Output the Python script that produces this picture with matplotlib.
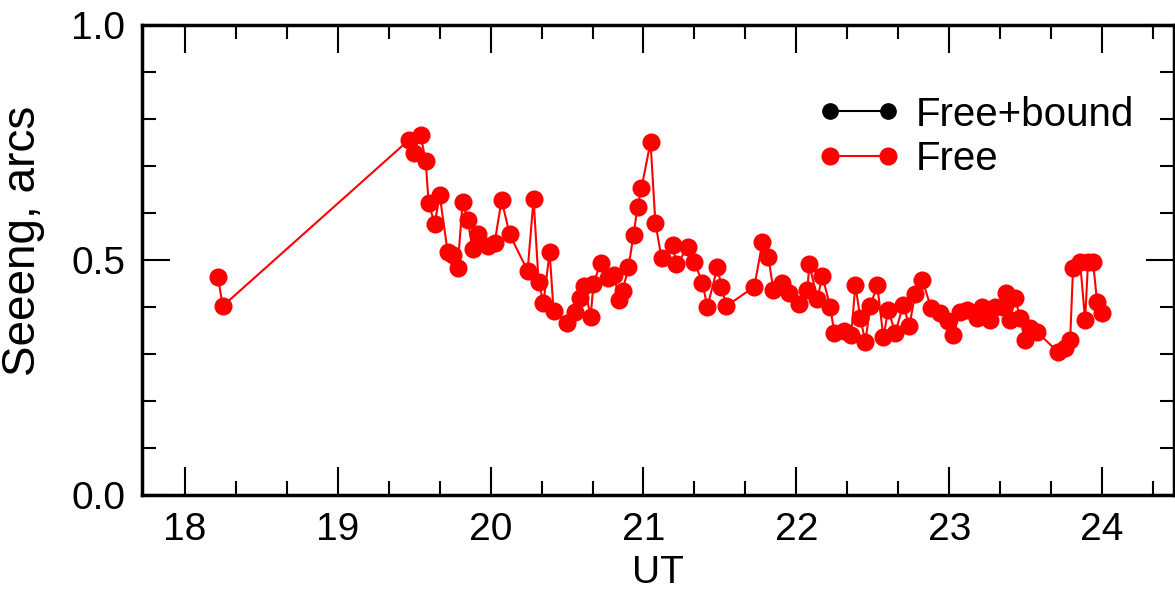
import numpy as np
import matplotlib.pyplot as plt
from matplotlib.ticker import MultipleLocator

plt.rcParams['font.family'] = ['Liberation Sans', 'DejaVu Sans']

# seeing vs UT, free atmosphere only (hours, arcsec)
ut_free = [18.216, 18.248, 19.464, 19.497, 19.542, 19.575, 19.595, 19.634, 19.667, 19.719,
           19.752, 19.784, 19.817, 19.850, 19.882, 19.915, 19.980, 20.026, 20.072, 20.124,
           20.242, 20.281, 20.314, 20.346, 20.386, 20.412, 20.497, 20.549, 20.588, 20.614,
           20.654, 20.673, 20.719, 20.765, 20.810, 20.837, 20.863, 20.902, 20.935, 20.961,
           20.987, 21.046, 21.078, 21.118, 21.190, 21.216, 21.294, 21.333, 21.386, 21.418,
           21.484, 21.510, 21.542, 21.725, 21.778, 21.817, 21.850, 21.908, 21.954, 22.020,
           22.072, 22.085, 22.137, 22.170, 22.222, 22.248, 22.314, 22.359, 22.386, 22.418,
           22.451, 22.484, 22.529, 22.569, 22.601, 22.647, 22.699, 22.739, 22.778, 22.824,
           22.882, 22.941, 22.993, 23.026, 23.072, 23.118, 23.183, 23.216, 23.268, 23.301,
           23.353, 23.373, 23.399, 23.431, 23.464, 23.497, 23.529, 23.575, 23.712, 23.758,
           23.791, 23.810, 23.856, 23.889, 23.908, 23.941, 23.967, 24.000]
seeing_free = [0.464, 0.402, 0.755, 0.728, 0.766, 0.711, 0.621, 0.577, 0.638, 0.517,
               0.511, 0.483, 0.623, 0.585, 0.523, 0.555, 0.530, 0.536, 0.628, 0.555,
               0.477, 0.630, 0.453, 0.409, 0.517, 0.391, 0.366, 0.389, 0.419, 0.445,
               0.379, 0.449, 0.494, 0.462, 0.468, 0.415, 0.434, 0.485, 0.553, 0.613,
               0.653, 0.751, 0.579, 0.504, 0.532, 0.491, 0.528, 0.496, 0.451, 0.400,
               0.485, 0.443, 0.402, 0.443, 0.538, 0.506, 0.436, 0.451, 0.430, 0.406,
               0.436, 0.491, 0.417, 0.466, 0.400, 0.345, 0.349, 0.340, 0.447, 0.377,
               0.326, 0.402, 0.447, 0.336, 0.394, 0.345, 0.404, 0.360, 0.428, 0.457,
               0.398, 0.387, 0.370, 0.340, 0.389, 0.394, 0.377, 0.400, 0.372, 0.400,
               0.400, 0.430, 0.372, 0.419, 0.377, 0.330, 0.355, 0.347, 0.304, 0.313,
               0.330, 0.483, 0.496, 0.372, 0.496, 0.496, 0.411, 0.387]
# free+bound series (drawn underneath, hidden by the free one)
ut_total = []
seeing_total = []

fig = plt.figure(figsize=(11.75, 5.91), dpi=100)
ax = fig.add_axes([0.1209, 0.1624, 0.8782, 0.7953])

ax.plot(ut_total, seeing_total, '-o', color='black', lw=1.5, ms=11, label='Free+bound')
ax.plot(ut_free, seeing_free, '-o', color='red', lw=1.5, ms=12, label='Free')

ax.set_xlim(17.72, 24.47)
ax.set_ylim(0.0, 1.0)
ax.xaxis.set_major_locator(MultipleLocator(1))
ax.xaxis.set_minor_locator(MultipleLocator(1 / 3))
ax.yaxis.set_major_locator(MultipleLocator(0.5))
ax.yaxis.set_minor_locator(MultipleLocator(0.1))
ax.yaxis.set_major_formatter(plt.FormatStrFormatter('%.1f'))

ax.tick_params(which='both', direction='in', top=True, right=True, width=1.5)
ax.tick_params(which='major', length=20, labelsize=28, pad=12)
ax.tick_params(which='minor', length=10)
plt.setp(ax.spines.values(), linewidth=2.5)

ax.set_xlabel('UT', fontsize=28, labelpad=5)
ax.set_ylabel('Seeeng, arcs', fontsize=33)
ax.yaxis.set_label_coords(-0.094, 0.54)

ax.legend(loc='upper left', bbox_to_anchor=(0.655, 0.85), frameon=False, fontsize=29,
          numpoints=2, handlelength=2.05, handletextpad=0.375, labelspacing=0.17,
          borderpad=0, borderaxespad=0)

fig.savefig('out.png', dpi=100)
